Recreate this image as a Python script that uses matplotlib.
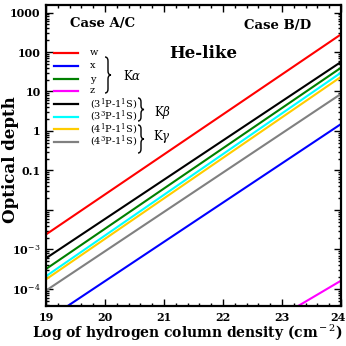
import numpy as np
import matplotlib
matplotlib.use('Agg')
import matplotlib.pyplot as plt
import matplotlib.transforms as mtransforms
from matplotlib.lines import Line2D
from matplotlib.path import Path
from matplotlib.patches import PathPatch
from matplotlib.ticker import FixedLocator, NullFormatter, LogLocator

plt.rcParams['font.family'] = 'DejaVu Serif'
plt.rcParams['mathtext.fontset'] = 'dejavuserif'

# ── Data: optical depth at log N_H = 19 and 24 ────────────────────────────────
log_nh = [19.0, 24.0]

tau_w    = [2.4e-3, 2.8e2]
tau_x    = [1.6e-5, 1.5e0]
tau_y    = [3.2e-4, 4.0e1]
tau_z    = [6.3e-9, 1.62e-4]
tau_3p1  = [6.0e-4, 5.6e1]
tau_3p3  = [2.1e-4, 3.0e1]
tau_4p1  = [1.75e-4, 2.35e1]
tau_4p3  = [9.1e-5, 8.7e0]

series = [
    ('w', tau_w, '#ff0000'),
    ('x', tau_x, '#0000ff'),
    ('y', tau_y, '#008000'),
    ('z', tau_z, '#ff00ff'),
    (r'(3$^{\rm 1}$P-1$^{\rm 1}$S)', tau_3p1, '#000000'),
    (r'(3$^{\rm 3}$P-1$^{\rm 1}$S)', tau_3p3, '#00ffff'),
    (r'(4$^{\rm 1}$P-1$^{\rm 1}$S)', tau_4p1, '#ffcc00'),
    (r'(4$^{\rm 3}$P-1$^{\rm 1}$S)', tau_4p3, '#808080'),
]

ytick_vals   = [1e-4, 1e-3, 1e-2, 1e-1, 1, 10, 100, 1000]
ytick_labels = [r'10$^{-4}$', r'10$^{-3}$', '', '0.1', '1', '10', '100', '1000']

W, H = 346, 346
fig = plt.figure(figsize=(W / 100, H / 100), dpi=100)
ax = fig.add_axes([46 / W, 1 - 306 / H, 295 / W, 301 / H])

for name, tau, color in series:
    ax.plot(log_nh, tau, '-', color=color, lw=1.5, solid_capstyle='butt')

ax.set_yscale('log')
ax.set_xlim(19, 24)
ax.set_ylim(3.7e-5, 1.55e3)

ax.set_xticks([19, 20, 21, 22, 23, 24])
ax.set_xticks(np.arange(19, 24.01, 0.2), minor=True)
ax.yaxis.set_major_locator(FixedLocator(ytick_vals))
ax.set_yticklabels(ytick_labels)
ax.yaxis.set_minor_locator(LogLocator(base=10, subs=np.arange(2, 10), numticks=20))
ax.yaxis.set_minor_formatter(NullFormatter())

ax.tick_params(which='both', direction='in', top=True, right=True, width=1.0,
               labelsize=8, pad=4)
ax.tick_params(which='major', length=5)
ax.tick_params(which='minor', length=2.5)
for lab in ax.get_xticklabels() + ax.get_yticklabels():
    lab.set_fontweight('bold')
# nudge the last x label inward so it stays on the canvas
last = ax.get_xticklabels()[-1]
last.set_transform(last.get_transform() +
                   mtransforms.ScaledTranslation(-0.035, 0, fig.dpi_scale_trans))
for sp in ax.spines.values():
    sp.set_linewidth(1.6)


# ── Annotations (placed in figure pixels) ─────────────────────────────────────
def fx(px):
    return px / W

def fy(py):
    return 1 - py / H


def brace(x0, y_top, y_bot, w=6, lw=1.0):
    """right-hand curly brace, figure pixel coords (y down)"""
    ym = (y_top + y_bot) / 2
    xm = x0 + w / 2
    r = min(4, (y_bot - y_top) / 4)
    pts = [
        (x0, y_top), (xm, y_top), (xm, y_top + r),
        (xm, ym - r),
        (xm, ym), (x0 + w, ym),
        (xm, ym), (xm, ym + r),
        (xm, y_bot - r),
        (xm, y_bot), (x0, y_bot),
    ]
    codes = [Path.MOVETO, Path.CURVE3, Path.CURVE3, Path.LINETO,
             Path.CURVE3, Path.CURVE3, Path.CURVE3, Path.CURVE3,
             Path.LINETO, Path.CURVE3, Path.CURVE3]
    verts = [(fx(a), fy(b)) for a, b in pts]
    fig.add_artist(PathPatch(Path(verts, codes), fc='none', ec='black', lw=lw,
                             transform=fig.transFigure))


fig.text(fx(187), fy(333), r'Log of hydrogen column density (cm$^{\rm -2}$)',
         fontsize=10, fontweight='bold', ha='center', va='center')
fig.text(fx(11), fy(160), 'Optical depth', fontsize=12, fontweight='bold',
         rotation=90, ha='center', va='center')

fig.text(fx(103), fy(24), 'Case A/C', fontsize=9.5, fontweight='bold', ha='center', va='center')
fig.text(fx(278), fy(25), 'Case B/D', fontsize=9.5, fontweight='bold', ha='center', va='center')
fig.text(fx(203), fy(53), 'He-like', fontsize=12, fontweight='bold', ha='center', va='center')

# hand-made legend
row_y = [52.7, 66, 79, 90.5, 104.3, 116.7, 129, 141.7]
for (name, tau, color), py in zip(series, row_y):
    fig.add_artist(Line2D([fx(54), fx(78)], [fy(py), fy(py)], color=color, lw=1.6,
                          transform=fig.transFigure))
    fig.text(fx(90), fy(py), name, fontsize=7, ha='left', va='center')

brace(105, 57, 93)
fig.text(fx(123), fy(76), r'K$\alpha$', fontsize=8.5, ha='left', va='center')
brace(138, 98, 121)
fig.text(fx(154), fy(112), r'K$\beta$', fontsize=8.5, ha='left', va='center')
brace(138, 125, 153)
fig.text(fx(153), fy(137), r'K$\gamma$', fontsize=8.5, ha='left', va='center')

fig.savefig('out.png', dpi=100)
